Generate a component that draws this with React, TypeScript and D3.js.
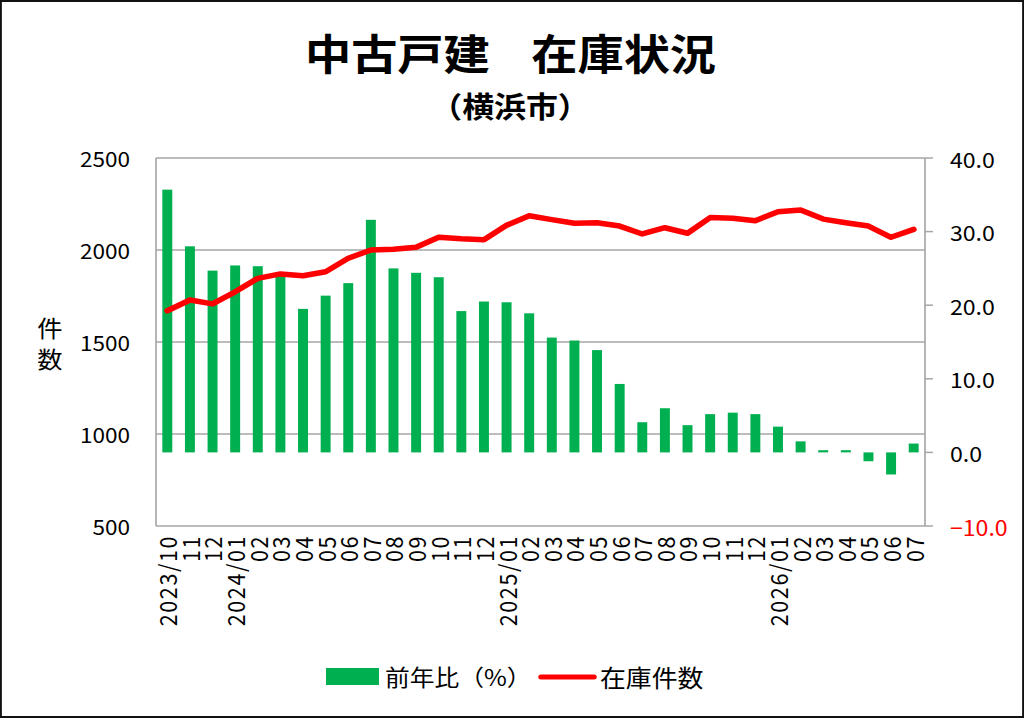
import * as d3 from 'd3';

// 横浜市 中古戸建 在庫状況
const months = [
  '2023/10', '11', '12',
  '2024/01', '02', '03', '04', '05', '06', '07', '08', '09', '10', '11', '12',
  '2025/01', '02', '03', '04', '05', '06', '07', '08', '09', '10', '11', '12',
  '2026/01', '02', '03', '04', '05', '06', '07',
];

// 前年比（%）
const yoy = [
  35.7, 28.0, 24.7,
  25.4, 25.3, 24.1, 19.5, 21.3, 23.0, 31.6, 25.0, 24.4, 23.8, 19.2, 20.5,
  20.4, 18.9, 15.6, 15.2, 13.9, 9.3, 4.1, 6.0, 3.7, 5.2, 5.4, 5.2,
  3.5, 1.5, 0.3, 0.3, -1.2, -3.0, 1.2,
];

// 在庫件数
const stock = [
  1670, 1728, 1707,
  1773, 1846, 1870, 1860, 1882, 1955, 2000, 2004, 2015, 2069, 2061, 2056,
  2134, 2186, 2165, 2145, 2148, 2130, 2087, 2121, 2091, 2176, 2172, 2159,
  2208, 2217, 2168, 2148, 2130, 2069, 2112,
];

const leftTicks = [500, 1000, 1500, 2000, 2500];
const rightTicks = [-10, 0, 10, 20, 30, 40];

// the picture is stretched a little horizontally, so draw in a narrower box
const SX = 1.1;
const W = 1024 / SX;
const H = 718;
const FONT = '"Noto Sans CJK JP", "Noto Sans", sans-serif';

const GREEN = '#00b050';
const RED = '#ff0000';
const GRID = '#a6a6a6';

const left = 156 / SX;
const right = 925 / SX;
const top = 158;
const bottom = 526;

export default function App() {
  const x = d3.scaleBand<number>()
    .domain(months.map((_, i) => i))
    .range([left, right])
    .paddingInner(0.56)
    .paddingOuter(0.28);
  const yL = d3.scaleLinear().domain([500, 2500]).range([bottom, top]);
  const yR = d3.scaleLinear().domain([-10, 40]).range([bottom, top]);

  const cx = (i: number) => (x(i) ?? 0) + x.bandwidth() / 2;
  const line = d3.line<number>()
    .x((_, i) => cx(i))
    .y(d => yL(d));

  return (
    <div style={{ position: 'absolute', left: 0, top: 0 }}>
      <svg width={1024} height={H} viewBox={`0 0 ${W} ${H}`} preserveAspectRatio="none"
        style={{ display: 'block', fontFamily: FONT }}>
        <rect x={0} y={0} width={W} height={H} fill="#fff" />
        <rect x={0.7} y={1} width={W - 1.4} height={H - 2} fill="none" stroke="#111" strokeWidth={2} />

        {/* title */}
        <text x={305 / SX} y={52} textAnchor="start" dominantBaseline="central"
          fontSize={42} fontWeight="bold" fill="#000">中古戸建</text>
        <text x={716 / SX} y={52} textAnchor="end" dominantBaseline="central"
          fontSize={42} fontWeight="bold" fill="#000">在庫状況</text>
        <text x={510 / SX} y={106} textAnchor="middle" dominantBaseline="central"
          fontSize={29} fontWeight="bold" fill="#000">（横浜市）</text>

        {/* grid */}
        {leftTicks.map(t => (
          <line key={t} x1={left} x2={right} y1={yL(t)} y2={yL(t)} stroke={GRID} strokeWidth={1.5} />
        ))}
        <line x1={left} x2={left} y1={top} y2={bottom} stroke={GRID} strokeWidth={1.5} />
        <line x1={right} x2={right} y1={top} y2={bottom} stroke={GRID} strokeWidth={1.5} />
        {rightTicks.map(t => (
          <line key={t} x1={right} x2={right + 8 / SX} y1={yR(t)} y2={yR(t)} stroke={GRID} strokeWidth={1.5} />
        ))}

        {/* bars */}
        {yoy.map((v, i) => (
          <rect key={i} x={x(i)} width={x.bandwidth()}
            y={Math.min(yR(v), yR(0))} height={Math.abs(yR(v) - yR(0))} fill={GREEN} />
        ))}

        {/* line */}
        <path d={line(stock) ?? ''} fill="none" stroke={RED} strokeWidth={5.5}
          strokeLinejoin="round" strokeLinecap="round" />

        {/* left axis labels */}
        {leftTicks.map(t => (
          <text key={t} x={130 / SX} y={yL(t)} textAnchor="end" dominantBaseline="central"
            fontSize={20.5} fill="#000">{t}</text>
        ))}
        <text x={50 / SX} y={327} textAnchor="middle" dominantBaseline="central" fontSize={23}>件</text>
        <text x={50 / SX} y={358} textAnchor="middle" dominantBaseline="central" fontSize={23}>数</text>

        {/* right axis labels */}
        {rightTicks.map(t => (
          <text key={t} x={950 / SX} y={yR(t)} textAnchor="start" dominantBaseline="central"
            fontSize={21} fill={t < 0 ? RED : '#000'}>{d3.format('.1f')(t)}</text>
        ))}

        {/* x labels */}
        {months.map((m, i) => (
          <text key={i} transform={`translate(${cx(i)},${535}) rotate(-90)`}
            textAnchor="end" dominantBaseline="central" fontSize={21.5} letterSpacing={1.6}
            fill="#000">{m}</text>
        ))}

        {/* legend */}
        <rect x={326 / SX} y={668} width={53 / SX} height={17} fill={GREEN} />
        <text x={385 / SX} y={677} dominantBaseline="central" fontSize={22.5}>前年比（%）</text>
        <line x1={541 / SX} x2={594 / SX} y1={677} y2={677} stroke={RED} strokeWidth={5} strokeLinecap="round" />
        <text x={600 / SX} y={677} dominantBaseline="central" fontSize={23.5}>在庫件数</text>
      </svg>
    </div>
  );
}
